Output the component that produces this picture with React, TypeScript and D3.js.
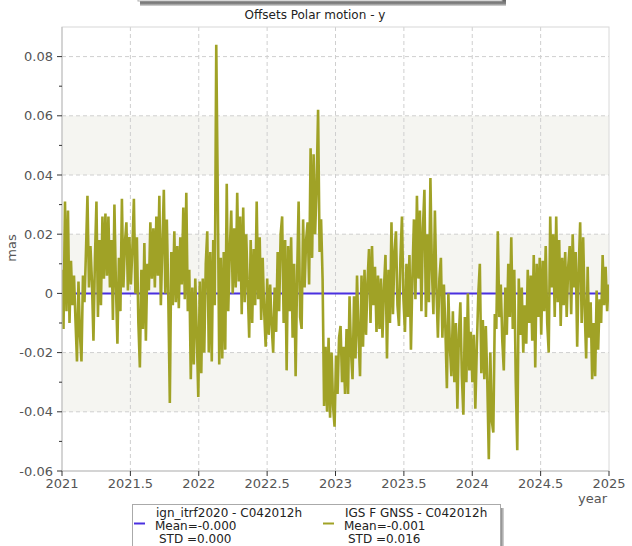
import React from 'react';
import * as d3 from 'd3';

const title = 'Offsets Polar motion - y';
const yAxisLabel = 'mas';
const xAxisLabel = 'year';

const yMajorTicks = [-0.06, -0.04, -0.02, 0, 0.02, 0.04, 0.06, 0.08];
const yTickLabels = ['-0.06', '-0.04', '-0.02', '0', '0.02', '0.04', '0.06', '0.08'];
const yMinorTicks = [-0.05, -0.03, -0.01, 0.01, 0.03, 0.05, 0.07];
const xTicks = [2021, 2021.5, 2022, 2022.5, 2023, 2023.5, 2024, 2024.5, 2025];
const xTickLabels = ['2021', '2021.5', '2022', '2022.5', '2023', '2023.5', '2024', '2024.5', '2025'];

// Reference series (ign_itrf2020): flat at zero
const refYears = [2021, 2025];
const refValues = [0, 0];

// IGS F GNSS series: one sample every 4 days from 2021.0, values in units of 0.001 mas
const igsStartYear = 2021;
const igsStepDays = 4;
const igsOffsets = [
  8, -12, 31, -6, 28, -10, 11, -4, 6, -9,
  -23, 4, -14, -23, 6, -3, 14, 33, 2, 16,
  4, -16, 12, 31, -8, 18, -4, 26, 5, 27,
  6, 26, 2, 18, -9, 30, 3, -17, 12, -6,
  32, 2, 17, 24, 1, 19, 3, 15, 32, 0,
  19, -10, -25, 8, -12, 17, -16, 10, 1, 24,
  5, 22, 2, 26, 6, 33, -4, 16, 35, 0,
  25, -2, -37, 14, -4, 21, -3, 16, -5, 19,
  3, 29, -2, 34, -6, 8, -29, 2, -24, 5,
  -14, -35, 4, -27, 5, -20, 10, 21, -20, 14,
  -23, 18, -4, 84, 34, -24, 12, -22, 14, -19,
  37, -6, 14, 28, 0, 22, 2, 34, 4, 26,
  -7, 29, -3, 20, 2, -15, 18, -10, 15, -4,
  31, -2, 19, -9, 12, -6, -18, 5, -14, 3,
  -11, -20, 2, -13, 14, -6, 20, 26, -10, 18,
  -26, 16, -6, 19, -15, 10, -28, 6, 31, -8,
  -12, 25, 2, 18, 24, 3, 49, 12, 47, 20,
  36, 62, 14, 25, 5, -38, -18, -40, -15, -42,
  -20, -38, -45, -21, -34, -15, -11, -30, -18, -34,
  -12, -34, -1, -20, -29, -1, -22, 6, -14, -28,
  6, -18, 8, -14, 4, 15, -10, 16, -4, 9,
  -13, 6, -12, 5, -15, 2, 13, -22, 8, -10,
  24, -7, 14, 21, -4, -11, 12, 26, -2, -13,
  10, -8, 13, -19, 6, 25, -2, 33, 5, 28,
  -6, 22, 35, -8, 20, -3, 39, 8, -7, 28,
  2, -15, 5, 12, -15, 3, -12, -32, 0, -18,
  -28, -6, -30, -10, -39, -14, -3, -28, -41, -8,
  -30, 0, -26, -13, -30, -14, -39, -18, 0, 10,
  -27, -9, -29, -11, -30, -56, -20, -43, -47, -7,
  -12, 21, -8, 3, -16, -26, 2, -14, 10, -8,
  19, -12, 8, -30, -53, 5, -14, 2, -20, -4,
  -17, 8, -10, 6, -16, 13, -25, 10, -8, 12,
  -14, 11, -6, 16, -10, -20, 26, 2, 20, -8,
  26, -3, 18, -11, 12, -4, 14, -8, 9, 16,
  -7, 20, 2, 14, -18, 8, 24, -10, 19, -5,
  -22, 9, -15, -3, -29, -10, -28, 1, -19, -2,
  -10, 13, -4, 9, -6, 3,
];

const legendNames = ['ign_itrf2020 - C042012h', 'IGS F GNSS - C042012h'];
const legendMeans = ['Mean=-0.000', 'Mean=-0.001'];
const legendStds = ['STD =0.000', 'STD =0.016'];
const seriesColors = ['#4a30e0', '#a0a226'];

const W = 632;
const H = 546;
const left = 62;
const right = 609;
const top = 27;
const bottom = 471;
const font = '"DejaVu Sans", Verdana, sans-serif';

export default function App() {
  const x = d3.scaleLinear().domain([2021, 2025]).range([left, right]);
  const y = d3.scaleLinear().domain([-0.06, 0.09]).range([bottom, top]);

  const igsData = igsOffsets.map((v, i) => ({
    t: igsStartYear + (i * igsStepDays) / 365.25,
    v: v / 1000,
  }));
  const refData = refYears.map((t, i) => ({ t, v: refValues[i] }));

  const line = d3
    .line<{ t: number; v: number }>()
    .x((d) => x(d.t))
    .y((d) => y(d.v));

  const bands: [number, number][] = [];
  for (let i = 1; i < yMajorTicks.length - 1; i += 2) {
    bands.push([yMajorTicks[i], yMajorTicks[i + 1]]);
  }

  const legendX = 132;
  const legendY = 504;
  const col2 = 189;

  return (
    <svg
      width={W}
      height={H}
      style={{ position: 'absolute', left: 0, top: 0, background: '#fff' }}
      fontFamily={font}
    >
      <defs>
        <linearGradient id="topShadow" x1="0" y1="0" x2="0" y2="1">
          <stop offset="0" stopColor="#666" />
          <stop offset="0.6" stopColor="#858585" />
          <stop offset="1" stopColor="#dcdcdc" />
        </linearGradient>
        <linearGradient id="sideShadow" x1="0" y1="0" x2="1" y2="0">
          <stop offset="0" stopColor="#707070" />
          <stop offset="1" stopColor="#d8d8d8" />
        </linearGradient>
        <clipPath id="plotClip">
          <rect x={left} y={top} width={right - left} height={bottom - top} />
        </clipPath>
      </defs>

      {/* cut-off box above the chart */}
      <rect x={140} y={0} width={366} height={6} fill="url(#topShadow)" />
      <rect x={138} y={-4} width={364} height={5} fill="#fff" stroke="#b0b0b0" strokeWidth={1} />

      {/* title */}
      <text x={315} y={19} textAnchor="middle" fontSize={12} fill="#222">
        {title}
      </text>

      {/* plot background */}
      <rect x={left} y={top} width={right - left} height={bottom - top} fill="#fff" />
      {bands.map(([a, b], i) => (
        <rect
          key={'band' + i}
          x={left}
          y={y(b)}
          width={right - left}
          height={y(a) - y(b)}
          fill="#f5f5f1"
        />
      ))}

      {/* grid */}
      {yMajorTicks.map((t, i) =>
        t > -0.06 ? (
          <line
            key={'gy' + i}
            x1={left}
            x2={right}
            y1={y(t)}
            y2={y(t)}
            stroke="#cfcfcf"
            strokeDasharray="4,3"
            strokeWidth={1}
          />
        ) : null
      )}
      {xTicks.map((t, i) =>
        t > 2021 && t < 2025 ? (
          <line
            key={'gx' + i}
            x1={x(t)}
            x2={x(t)}
            y1={top}
            y2={bottom}
            stroke="#cfcfcf"
            strokeDasharray="4,3"
            strokeWidth={1}
          />
        ) : null
      )}

      {/* frame */}
      <rect
        x={left}
        y={top}
        width={right - left}
        height={bottom - top}
        fill="none"
        stroke="#d8d8d8"
        strokeWidth={1}
      />

      {/* series */}
      <g clipPath="url(#plotClip)">
        <path d={line(refData) || ''} fill="none" stroke={seriesColors[0]} strokeWidth={2} />
        <path
          d={line(igsData) || ''}
          fill="none"
          stroke={seriesColors[1]}
          strokeWidth={2.6}
          strokeLinejoin="miter"
          strokeMiterlimit={1.5}
        />
      </g>

      {/* axes lines */}
      <line x1={left} x2={left} y1={top} y2={bottom} stroke="#bdbdbd" strokeWidth={1} />
      <line x1={left} x2={right} y1={bottom} y2={bottom} stroke="#bdbdbd" strokeWidth={1} />

      {/* y ticks */}
      {yMajorTicks.map((t, i) => (
        <g key={'yt' + i}>
          <line x1={left - 5} x2={left} y1={y(t)} y2={y(t)} stroke="#333" strokeWidth={1} />
          <text
            x={left - 9}
            y={y(t)}
            dy="0.35em"
            textAnchor="end"
            fontSize={13}
            fill="#555"
          >
            {yTickLabels[i]}
          </text>
        </g>
      ))}
      {yMinorTicks.map((t, i) => (
        <line
          key={'ym' + i}
          x1={left - 3}
          x2={left}
          y1={y(t)}
          y2={y(t)}
          stroke="#333"
          strokeWidth={1}
        />
      ))}

      {/* x ticks */}
      {xTicks.map((t, i) => (
        <g key={'xt' + i}>
          <line x1={x(t)} x2={x(t)} y1={bottom} y2={bottom + 5} stroke="#333" strokeWidth={1} />
          <text x={x(t)} y={bottom + 17} textAnchor="middle" fontSize={13} fill="#555">
            {xTickLabels[i]}
          </text>
        </g>
      ))}

      {/* axis labels */}
      <text
        transform={`translate(16, 248) rotate(-90)`}
        textAnchor="middle"
        fontSize={13}
        fill="#555"
      >
        {yAxisLabel}
      </text>
      <text x={607} y={503} textAnchor="end" fontSize={13} fill="#555">
        {xAxisLabel}
      </text>

      {/* legend */}
      <rect x={legendX + 368} y={legendY + 4} width={4} height={H - legendY} fill="url(#sideShadow)" />
      <rect
        x={legendX + 0.5}
        y={legendY + 0.5}
        width={368}
        height={H}
        fill="#fff"
        stroke="#aaa"
        strokeWidth={1}
      />
      {legendNames.map((name, i) => {
        const cx = legendX + i * col2;
        return (
          <g key={'lg' + i} fontSize={12} fill="#222">
            <line
              x1={cx + 2}
              x2={cx + 13}
              y1={legendY + 19.5}
              y2={legendY + 19.5}
              stroke={seriesColors[i]}
              strokeWidth={2}
            />
            <text x={cx + 24} y={legendY + 13}>
              {name}
            </text>
            <text x={cx + 23} y={legendY + 26}>
              {legendMeans[i]}
            </text>
            <text x={cx + 27} y={legendY + 39}>
              {legendStds[i]}
            </text>
          </g>
        );
      })}
    </svg>
  );
}
